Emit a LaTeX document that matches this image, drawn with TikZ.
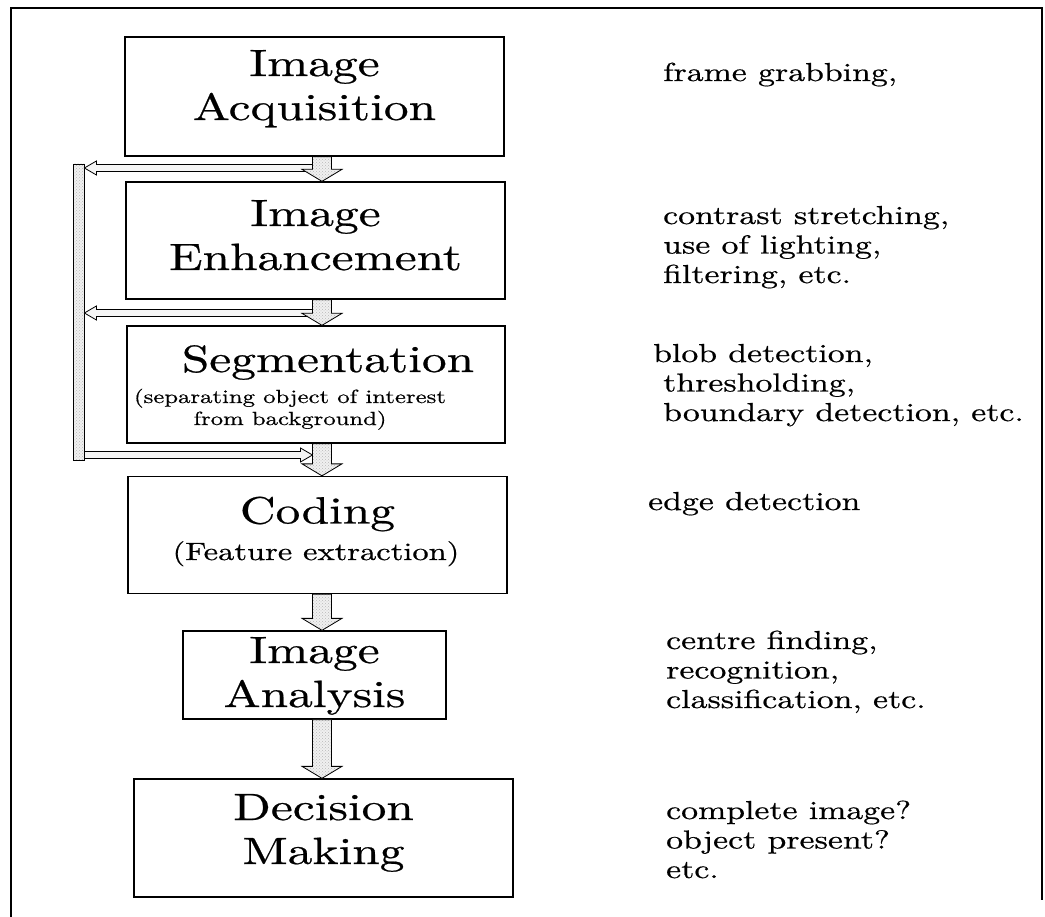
\documentclass[tikz,border=0pt]{standalone}
\usepackage{fontspec}
\setmainfont{lmroman10-regular}[Extension=.otf, FakeBold=0.6, FakeStretch=1.3]
\usetikzlibrary{calc,patterns}
\newcommand\titlefont{\fontsize{38}{44}\selectfont}
\newcommand\subfont{\fontsize{19}{22}\selectfont}
\newcommand\notefont{\fontsize{26}{29.5}\selectfont}
\newcommand\blockdown[2]{%
  \draw[blockarrow] let \p1=(#1 -| ax), \p2=(#2 -| ax) in
    (\x1-9.5pt,\y1) -- (\x1+9.5pt,\y1) -- (\x1+9.5pt,\y2+12pt) -- (\x1+20pt,\y2+12pt)
    -- (\x1,\y2) -- (\x1-20pt,\y2+12pt) -- (\x1-9.5pt,\y2+12pt) -- cycle;}
\newcommand\hollowarrow[2]{%
  \draw[fbarrow] let \p1=(#1), \p2=(#2), \n1={sign(\x2-\x1)}, \n2={\x2-\n1*12pt} in
    (\x1,\y1+3.5pt) -- (\n2,\y1+3.5pt) -- (\n2,\y1+7pt) -- (\x2,\y1)
    -- (\n2,\y1-7pt) -- (\n2,\y1-3.5pt) -- (\x1,\y1-3.5pt) -- cycle;}
\begin{document}
\begin{tikzpicture}[x=1pt,y=-1pt,
  stagebox/.style={draw, line width=1.3pt, inner sep=0pt, align=center, font=\titlefont},
  blockarrow/.style={draw, line width=0.8pt, preaction={fill=gray!12}, preaction={pattern=crosshatch dots, pattern color=gray!55}},
  fbarrow/.style={draw, line width=0.8pt, fill=gray!8},
  fbbar/.style={draw, line width=0.8pt, inner sep=0pt, preaction={fill=gray!12}, preaction={pattern=crosshatch dots, pattern color=gray!55}},
  notetext/.style={anchor=base west, align=left, font=\notefont, inner sep=0pt},
  subtext/.style={anchor=base, align=center, font=\subfont, inner sep=0pt}
]
\useasboundingbox (0,0) rectangle (1045,917);
\fill[white] (0,0) rectangle (1045,917);
% frame
\draw[line width=2.5pt] (11,917) -- (11,8) -- (1042,8) -- (1042,900);

% feedback bar and arrows
\node[fbbar, minimum width=11pt, minimum height=296pt] (bar) at (78.5,312) {};
\coordinate (ax) at (322,0);
\coordinate (g1) at (312.5,168);
\coordinate (g2) at (312.5,313);
\coordinate (g3) at (312.5,455);
\hollowarrow{g1}{bar.east |- g1}
\hollowarrow{g2}{bar.east |- g2}
\hollowarrow{bar.east |- g3}{g3}

% stages (two-line boxes: text height spans both lines, baseline = last line)
\node[stagebox, minimum width=379pt, minimum height=119pt, text height=76pt, text depth=29pt] (acq) at (314.5,96.5) {Image\\Acquisition};
\node[stagebox, minimum width=379pt, minimum height=117pt, text height=76pt, text depth=17pt] (enh) at (315.5,240.5) {Image\\Enhancement};
\node[stagebox, minimum width=378pt, minimum height=117pt, text height=32pt, text depth=57pt] (seg) at (316,384.5) {\hspace*{24pt}Segmentation};
\node[stagebox, minimum width=379pt, minimum height=117pt, text height=32pt, text depth=55pt] (cod) at (317.5,535) {Coding};
\node[stagebox, minimum width=263pt, minimum height=88pt, text height=76pt, text depth=12pt] (ana) at (314.5,675) {Image\\Analysis};
\node[stagebox, minimum width=379pt, minimum height=118pt, text height=76pt, text depth=24pt] (dec) at (323.5,838) {Decision\\Making};

\node[subtext] (segsub) at (290,425) {(separating object of interest\\from background)};
\node[subtext, font=\fontsize{25}{25}\selectfont] (codsub) at (316,560) {(Feature extraction)};

% flow arrows
\blockdown{acq.south}{enh.north}
\blockdown{enh.south}{seg.north}
\blockdown{seg.south}{cod.north}
\blockdown{cod.south}{ana.north}
\blockdown{ana.south}{dec.north}

% notes (anchor at the baseline of the last line)
\node[notetext] (n1) at (663,81) {frame grabbing,};
\node[notetext] (n2) at (663,283) {contrast stretching,\\use of lighting,\\filtering, etc.};
\node[notetext] (n3) at (653,421) {blob detection,\\\hspace*{10pt}thresholding,\\\hspace*{10pt}boundary detection, etc.};
\node[notetext] (n4) at (648,510) {edge detection};
\node[notetext] (n5) at (666,708) {centre finding,\\recognition,\\classification, etc.};
\node[notetext] (n6) at (666,878) {complete image?\\object present?\\etc.};
\end{tikzpicture}
\end{document}
